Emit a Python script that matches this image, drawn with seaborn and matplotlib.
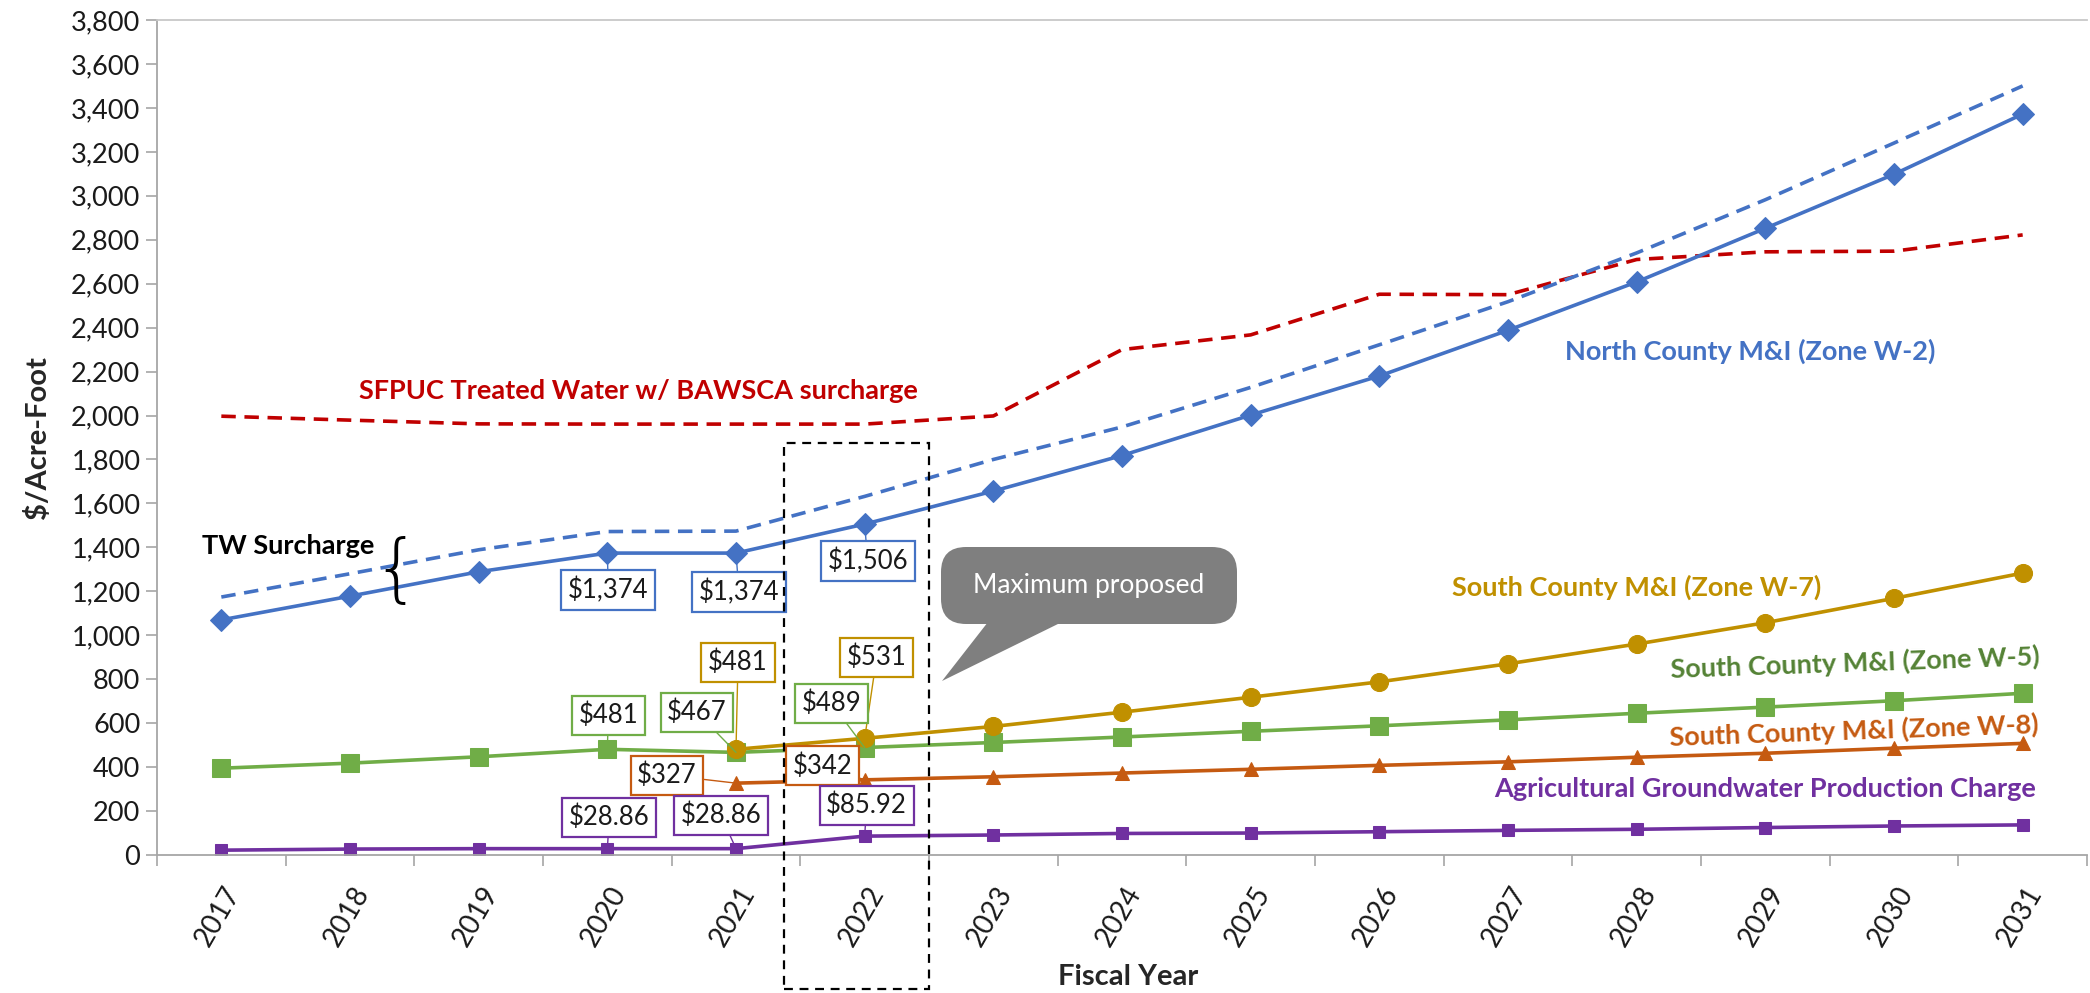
import numpy as np
import pandas as pd
import matplotlib
matplotlib.use("Agg")
import matplotlib.pyplot as plt
import matplotlib.patches as mpatches
import matplotlib.transforms as mtransforms
import seaborn as sns

# --- data ---
years = list(range(2017, 2032))
years_south = list(range(2021, 2032))

north_county = [1070, 1178, 1289, 1374, 1374, 1506, 1656, 1818, 2002, 2180, 2388, 2608, 2852, 3098, 3372]
north_with_tw = [1174, 1280, 1389, 1472, 1474, 1632, 1800, 1948, 2128, 2322, 2518, 2740, 2982, 3240, 3500]
sfpuc = [1997, 1979, 1962, 1961, 1961, 1961, 1998, 2300, 2367, 2552, 2550, 2710, 2745, 2748, 2822]
zone_w5 = [395, 418, 447, 481, 467, 489, 512, 537, 563, 588, 615, 645, 673, 702, 736]
zone_w7 = [481, 531, 585, 650, 718, 788, 870, 960, 1057, 1168, 1283]
zone_w8 = [327, 342, 356, 373, 390, 408, 424, 445, 463, 486, 508]
ag_charge = [22, 27, 28.86, 28.86, 28.86, 85.92, 91, 98, 100, 106, 112, 117, 125, 132, 137]

y_ticks = list(range(0, 3801, 200))

BLUE = "#4472C4"
RED = "#C00000"
GOLD = "#C09000"
GREEN = "#70AD47"
GREEN_TXT = "#548235"
ORANGE = "#C55A11"
PURPLE = "#7030A0"

W, H = 2090, 993


def fx(x):
    return x / W


def fy(y):
    return 1 - y / H


sns.set_theme(style="white")
plt.rcParams["font.family"] = ["Lato", "DejaVu Sans"]

fig = plt.figure(figsize=(W / 100, H / 100), dpi=100)
ax = fig.add_axes([fx(157), fy(855), fx(2087) - fx(157), fy(20) - fy(855)])

df = pd.DataFrame({"year": years, "north": north_county, "north_tw": north_with_tw,
                   "sfpuc": sfpuc, "w5": zone_w5, "ag": ag_charge})
df_s = pd.DataFrame({"year": years_south, "w7": zone_w7, "w8": zone_w8})

# --- lines ---
sns.lineplot(data=df, x="year", y="sfpuc", color=RED, lw=2.6, linestyle=(0, (4, 2.4)), ax=ax)
sns.lineplot(data=df, x="year", y="north_tw", color=BLUE, lw=2.6, linestyle=(0, (4, 2.4)), ax=ax)
sns.lineplot(data=df, x="year", y="north", color=BLUE, lw=2.6, marker="D", markersize=11,
             markeredgecolor=BLUE, ax=ax)
sns.lineplot(data=df, x="year", y="w5", color=GREEN, lw=2.6, marker="s", markersize=13,
             markeredgecolor=GREEN, ax=ax)
sns.lineplot(data=df_s, x="year", y="w7", color=GOLD, lw=2.6, marker="o", markersize=13,
             markeredgecolor=GOLD, ax=ax)
sns.lineplot(data=df_s, x="year", y="w8", color=ORANGE, lw=2.6, marker="^", markersize=10,
             markeredgecolor=ORANGE, ax=ax)
sns.lineplot(data=df, x="year", y="ag", color=PURPLE, lw=2.6, marker="s", markersize=9,
             markeredgecolor=PURPLE, ax=ax)

# --- axes styling ---
ax.set_xlim(2016.5, 2031.5)
ax.set_ylim(0, 3800)
ax.set_yticks(y_ticks)
ax.set_yticklabels([f"{v:,}" for v in y_ticks])
ax.set_xticks(years)
ax.set_xticks(np.arange(2016.5, 2032, 1), minor=True)
ax.set_xlabel("")
ax.set_ylabel("")
for side in ["left", "bottom", "top"]:
    ax.spines[side].set_color("#A6A6A6")
    ax.spines[side].set_linewidth(1.3)
ax.spines["top"].set_color("#C8C8C8")
ax.spines["right"].set_visible(False)
ax.tick_params(axis="y", which="major", left=True, length=8, width=1.2, color="#A6A6A6",
               labelsize=19.5, labelcolor="#1a1a1a", pad=4)
ax.tick_params(axis="x", which="major", bottom=True, length=0, labelsize=20, labelcolor="#1a1a1a", pad=24)
ax.tick_params(axis="x", which="minor", bottom=True, length=8, width=1.2, color="#A6A6A6")
shift = mtransforms.ScaledTranslation(0.13, 0, fig.dpi_scale_trans)
for lab in ax.get_xticklabels():
    lab.set_rotation(60)
    lab.set_ha("right")
    lab.set_va("center")
    lab.set_rotation_mode("anchor")
    lab.set_transform(lab.get_transform() + shift)

fig.text(fx(1128), fy(977), "Fiscal Year", fontsize=21, fontweight="bold", ha="center", va="center")
fig.text(fx(38), fy(438), "$/Acre-Foot", fontsize=21, fontweight="bold", rotation=90,
         ha="center", va="center")

# --- series names ---
def series_name(x, y, s, color, rot=0):
    fig.text(fx(x), fy(y), s, fontsize=19.5, fontweight="bold", color=color, ha="center",
             va="center", rotation=rot)


series_name(638, 391, "SFPUC Treated Water w/ BAWSCA surcharge", RED)
series_name(1750, 351, "North County M&I (Zone W-2)", BLUE)
series_name(1637, 587, "South County M&I (Zone W-7)", GOLD)
series_name(1855, 663, "South County M&I (Zone W-5)", GREEN_TXT, rot=2)
series_name(1854, 731, "South County M&I (Zone W-8)", ORANGE, rot=2)
series_name(1765, 789, "Agricultural Groundwater Production Charge", PURPLE)
series_name(288, 546, "TW Surcharge", "black")
fig.text(fx(396), fy(572), "{", fontsize=54, color="black", ha="center", va="center",
         family="DejaVu Sans", fontweight="light")

# --- value labels ---
def value_label(year, value, text, color, dx, dy):
    ax.annotate(text, xy=(year, value), xytext=(dx * 0.72, dy * 0.72), textcoords="offset points",
                ha="center", va="center", fontsize=18.5, color="#1a1a1a", zorder=6,
                bbox=dict(boxstyle="square,pad=0.26", fc="white", ec=color, lw=1.6),
                arrowprops=dict(arrowstyle="-", color=color, lw=1.0, shrinkA=0, shrinkB=0))


value_label(2020, north_county[3], "$1,374", BLUE, 1, -37)
value_label(2021, north_county[4], "$1,374", BLUE, 3, -39)
value_label(2022, north_county[5], "$1,506", BLUE, 3, -37)
value_label(2021, zone_w7[0], "$481", GOLD, 2, 87)
value_label(2022, zone_w7[1], "$531", GOLD, 12, 81)
value_label(2020, zone_w5[3], "$481", GREEN, 1, 34)
value_label(2021, zone_w5[4], "$467", GREEN, -39, 40)
value_label(2022, zone_w5[5], "$489", GREEN, -33, 44)
value_label(2021, zone_w8[0], "$327", ORANGE, -69, 8)
value_label(2022, zone_w8[1], "$342", ORANGE, -42, 14)
value_label(2020, ag_charge[3], "$28.86", PURPLE, 2, 31)
value_label(2021, ag_charge[4], "$28.86", PURPLE, -15, 33)
value_label(2022, ag_charge[5], "$85.92", PURPLE, 2, 31)

# --- dashed frame around FY2022 ---
fig.patches.append(mpatches.Rectangle((fx(784), fy(989)), fx(929) - fx(784), fy(443) - fy(989),
                                      transform=fig.transFigure, fill=False, ec="black", lw=1.6,
                                      ls=(0, (4, 3)), zorder=8))

# --- callout ---
CALLOUT = "#7F7F7F"
fig.patches.append(mpatches.FancyBboxPatch((fx(941), fy(624)), fx(1237) - fx(941), fy(547) - fy(624),
                                           boxstyle="round,pad=0,rounding_size=0.012",
                                           transform=fig.transFigure, fc=CALLOUT, ec="none",
                                           mutation_aspect=W / H, zorder=7))
fig.patches.append(mpatches.Polygon([(fx(988), fy(622)), (fx(1062), fy(622)), (fx(942), fy(681))],
                                    closed=True, transform=fig.transFigure, fc=CALLOUT, ec="none",
                                    zorder=7))
fig.text(fx(1089), fy(586), "Maximum proposed", fontsize=19, color="white", ha="center",
         va="center", zorder=9)

fig.savefig("out.png", dpi=100)
